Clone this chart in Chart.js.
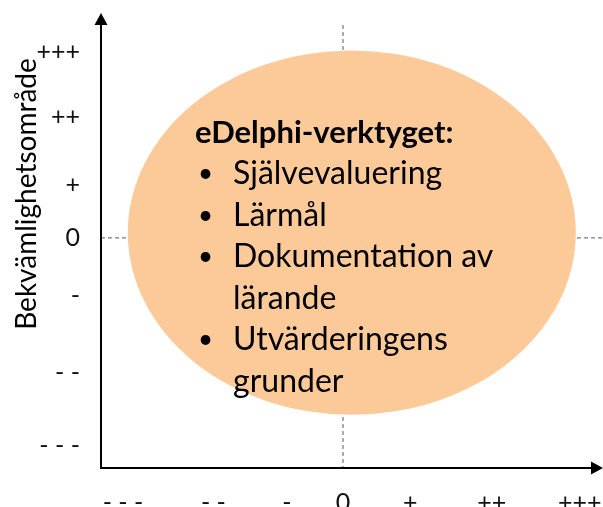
<!DOCTYPE html>
<html>
<head>
<meta charset="utf-8">
<script src="https://cdn.jsdelivr.net/npm/chart.js@4.4.0/dist/chart.umd.min.js"></script>
<style>
  html, body { margin: 0; padding: 0; background: #fff; }
  #wrap { width: 603px; height: 507px; }
</style>
</head>
<body>
<div id="wrap"><canvas id="myChart"></canvas></div>
<script>
// tick labels and where they sit on each axis
const xTickLabels = ['- - -', '- -', '-', '0', '+', '++', '+++'];
const xTickValues = [-2.75, -1.62, -0.7, 0, 0.84, 1.86, 2.96];
const yTickLabels = ['- - -', '- -', '-', '0', '+', '++', '+++'];
const yTickValues = [-2.77, -1.8, -0.77, 0, 0.71, 1.61, 2.48];

const yTitle = 'Bekvämlighetsområde';

// the comfort zone (centre + radii in axis units)
const zoneCenter = [0.11, 0.07];
const zoneRadius = [2.8, 2.43];
const zoneHeading = 'eDelphi-verktyget:';
const zoneItems = [
  ['Självevaluering'],
  ['Lärmål'],
  ['Dokumentation av', 'lärande'],
  ['Utvärderingens', 'grunder']
];

const FONT = 'Lato, "Open Sans", sans-serif';

const zonePlugin = {
  id: 'zone',
  beforeDatasetsDraw(chart) {
    const { ctx, chartArea } = chart;
    const xs = chart.scales.x, ys = chart.scales.y;
    const x0 = xs.getPixelForValue(0);
    const y0 = ys.getPixelForValue(0);

    // dashed zero lines
    ctx.save();
    ctx.strokeStyle = '#595959';
    ctx.lineWidth = 1;
    ctx.setLineDash([4, 3]);
    ctx.beginPath();
    ctx.moveTo(x0, chartArea.top + 12);
    ctx.lineTo(x0, chartArea.bottom);
    ctx.moveTo(chartArea.left, y0);
    ctx.lineTo(chartArea.right, y0);
    ctx.stroke();
    ctx.restore();

    // ellipse
    const cx = xs.getPixelForValue(zoneCenter[0]);
    const cy = ys.getPixelForValue(zoneCenter[1]);
    const rx = Math.abs(xs.getPixelForValue(zoneCenter[0] + zoneRadius[0]) - cx);
    const ry = Math.abs(ys.getPixelForValue(zoneCenter[1] + zoneRadius[1]) - cy);
    ctx.save();
    ctx.fillStyle = '#FCCA98';
    ctx.beginPath();
    ctx.ellipse(cx, cy, rx, ry, 0, 0, Math.PI * 2);
    ctx.fill();
    ctx.restore();
  },
  afterDatasetsDraw(chart) {
    const { ctx, chartArea } = chart;
    const xs = chart.scales.x, ys = chart.scales.y;

    // text in the ellipse
    const left = xs.getPixelForValue(-1.85);
    let base = ys.getPixelForValue(1.27);
    const lh = 41.5;
    ctx.save();
    ctx.fillStyle = '#000';
    ctx.textBaseline = 'alphabetic';
    ctx.textAlign = 'left';
    ctx.font = 'bold 31px ' + FONT;
    ctx.fillText(zoneHeading, left, base);
    zoneItems.forEach(item => {
      item.forEach((line, i) => {
        base += lh;
        if (i === 0) {
          ctx.font = '26px ' + FONT;
          ctx.fillText('•', left + 3, base - 2);
        }
        ctx.font = '32px ' + FONT;
        ctx.fillText(line, left + 38, base);
      });
    });
    ctx.restore();

    // axes with arrow heads
    const l = chartArea.left, b = chartArea.bottom;
    const t = chartArea.top, r = chartArea.right;
    ctx.save();
    ctx.strokeStyle = '#000';
    ctx.fillStyle = '#000';
    ctx.lineWidth = 2;
    ctx.beginPath();
    ctx.moveTo(l, b);
    ctx.lineTo(l, t + 10);
    ctx.moveTo(l - 1, b);
    ctx.lineTo(r - 10, b);
    ctx.stroke();
    ctx.beginPath();
    ctx.moveTo(l, t);
    ctx.lineTo(l - 6.5, t + 12);
    ctx.lineTo(l + 6.5, t + 12);
    ctx.closePath();
    ctx.fill();
    ctx.beginPath();
    ctx.moveTo(r, b);
    ctx.lineTo(r - 12, b - 6.5);
    ctx.lineTo(r - 12, b + 6.5);
    ctx.closePath();
    ctx.fill();
    ctx.restore();

    // y axis title
    ctx.save();
    ctx.translate(36, 194);
    ctx.rotate(-Math.PI / 2);
    ctx.font = '28px ' + FONT;
    ctx.fillStyle = '#000';
    ctx.textAlign = 'center';
    ctx.textBaseline = 'alphabetic';
    ctx.fillText(yTitle, 0, 0);
    ctx.restore();
  }
};

const ctx = document.getElementById('myChart');
new Chart(ctx, {
  type: 'scatter',
  data: {
    datasets: [{
      data: [{ x: zoneCenter[0], y: zoneCenter[1] }],
      pointRadius: 0
    }]
  },
  options: {
    responsive: true,
    maintainAspectRatio: false,
    animation: false,
    layout: { padding: { top: 13, right: 0, left: 0, bottom: 0 } },
    plugins: {
      legend: { display: false },
      tooltip: { enabled: false }
    },
    scales: {
      x: {
        type: 'linear',
        min: -3.025,
        max: 3.25,
        afterFit: s => {
          s.height = 39;
          s.paddingLeft = 0;
          s.paddingRight = 0;
        },
        afterBuildTicks: s => { s.ticks = xTickValues.map(v => ({ value: v })); },
        grid: { display: false, drawTicks: false },
        border: { display: false },
        ticks: {
          autoSkip: false,
          maxRotation: 0,
          padding: 20,
          color: '#111',
          font: { family: FONT, size: 25 },
          callback: (v, i) => xTickLabels[i]
        }
      },
      y: {
        type: 'linear',
        min: -3.07,
        max: 3.0,
        afterFit: s => {
          s.width = 101;
          s.paddingTop = 0;
          s.paddingBottom = 0;
        },
        afterBuildTicks: s => { s.ticks = yTickValues.map(v => ({ value: v })); },
        grid: { display: false, drawTicks: false },
        border: { display: false },
        ticks: {
          autoSkip: false,
          padding: 21,
          color: '#111',
          font: { family: FONT, size: 25 },
          callback: (v, i) => yTickLabels[i]
        }
      }
    }
  },
  plugins: [zonePlugin]
});
</script>
</body>
</html>
